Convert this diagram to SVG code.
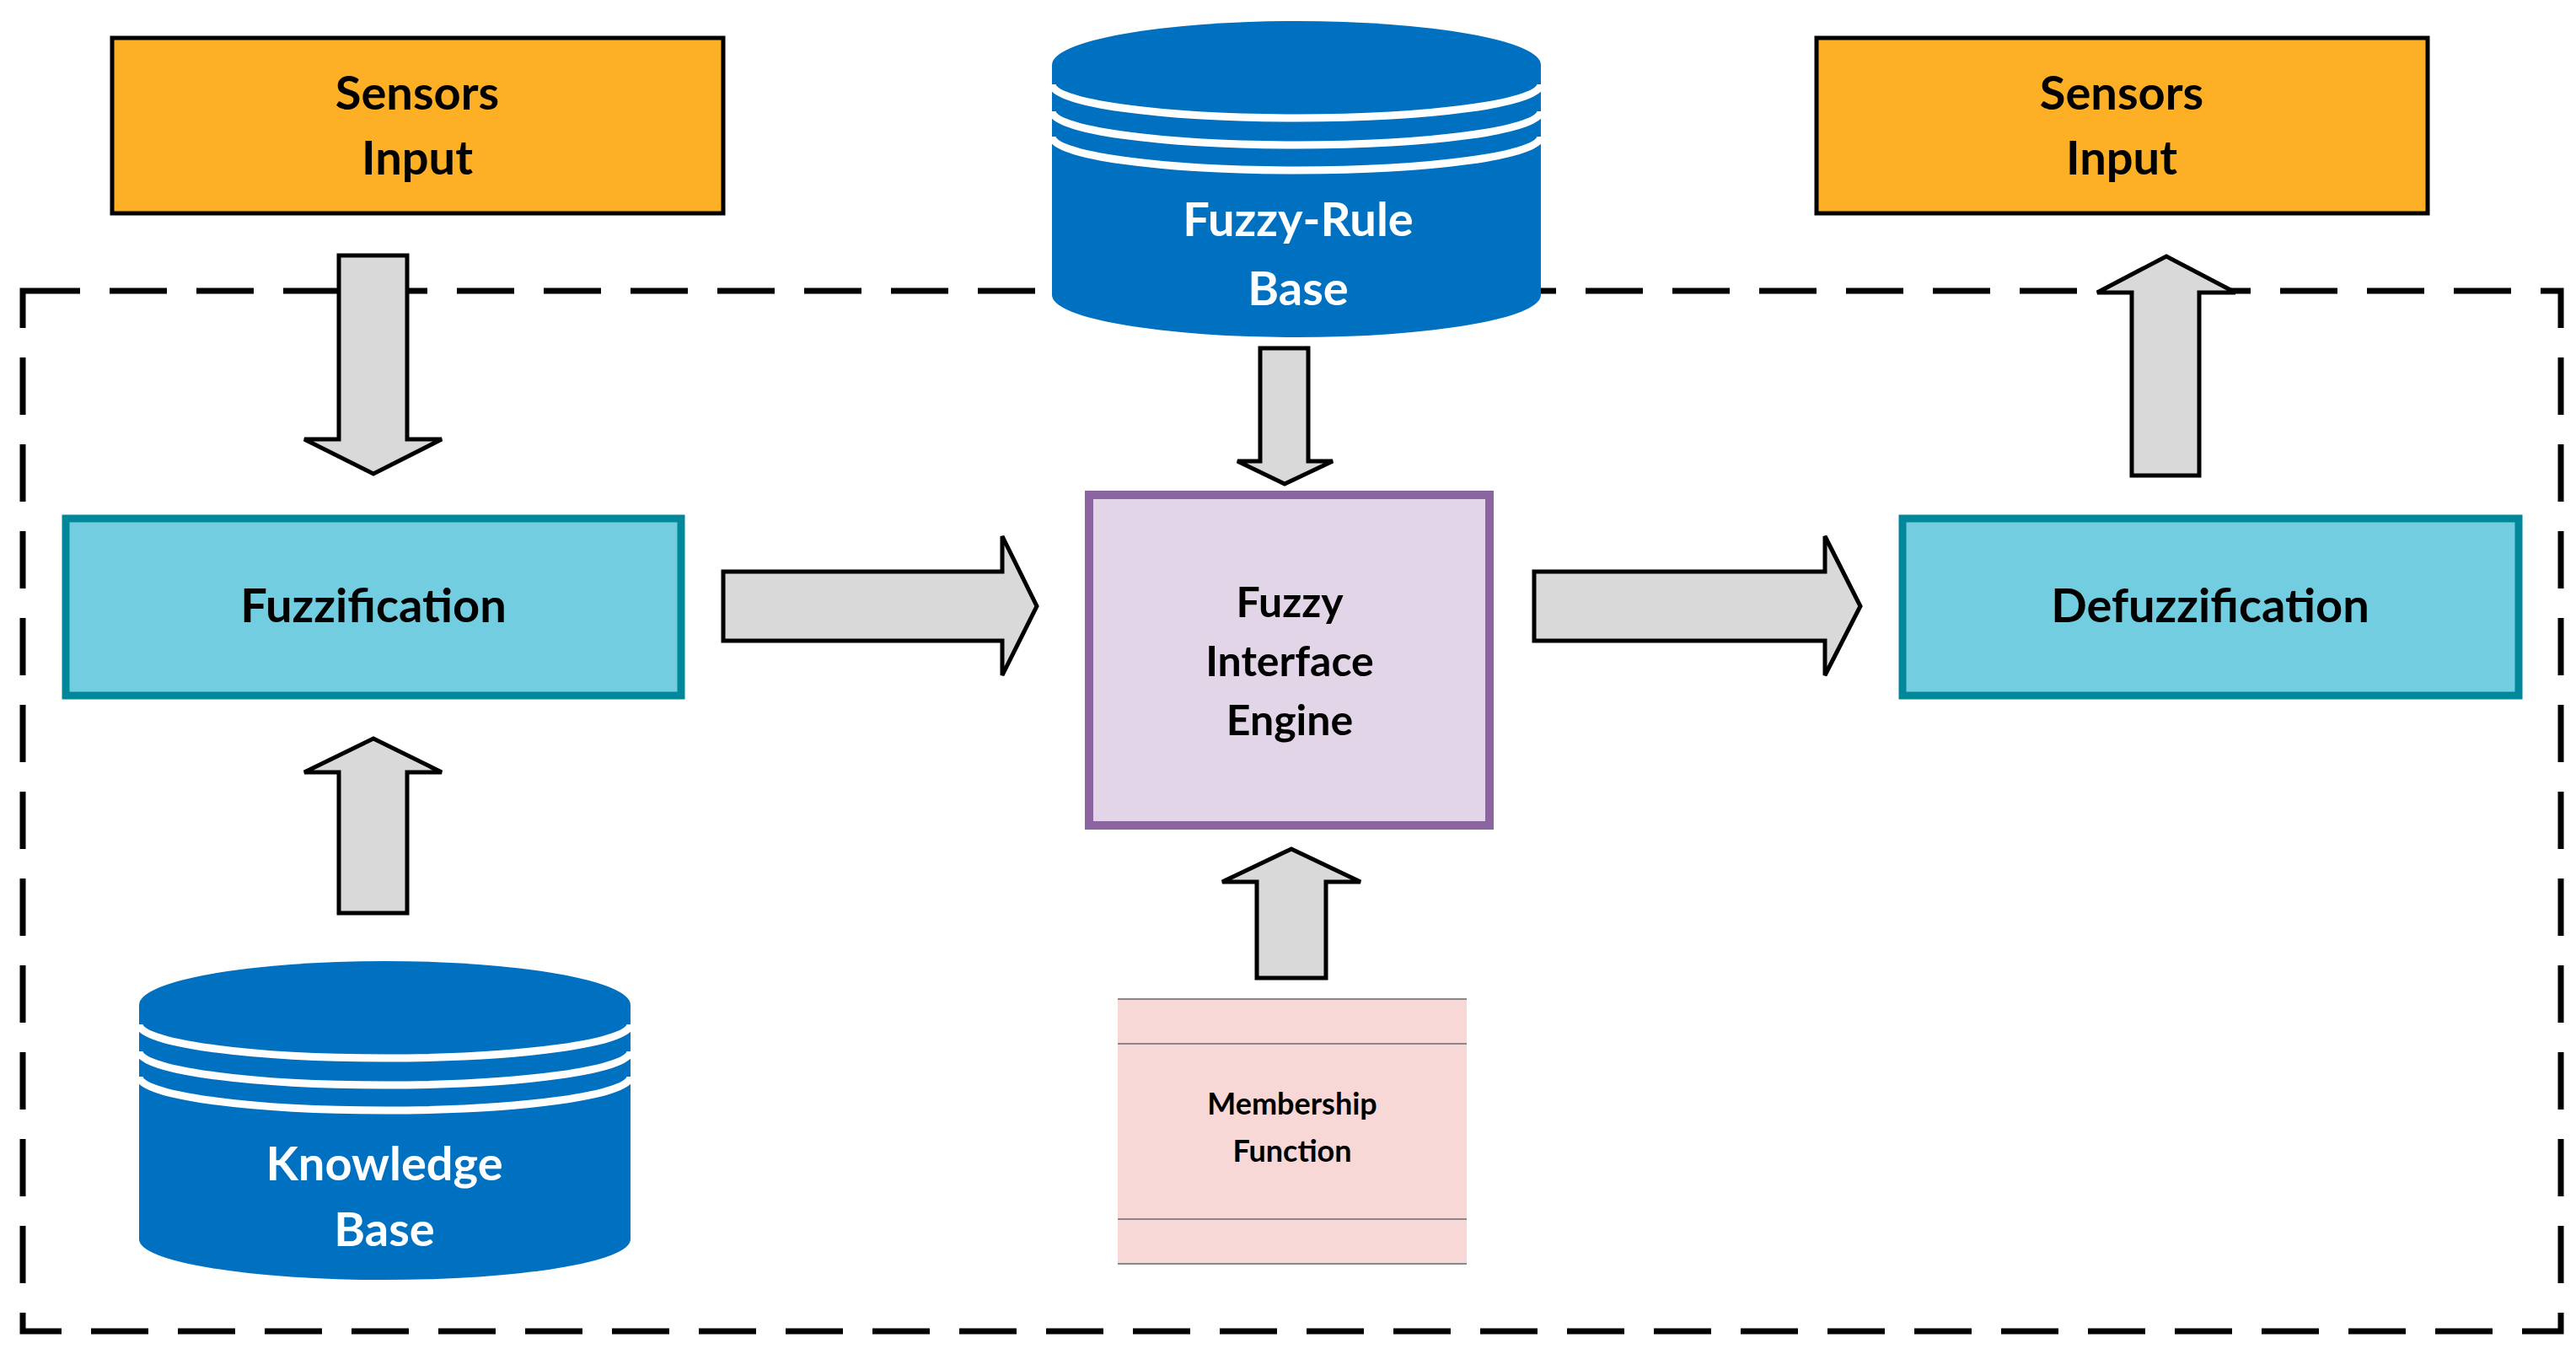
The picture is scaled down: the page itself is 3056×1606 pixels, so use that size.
<svg xmlns="http://www.w3.org/2000/svg" width="3056" height="1606" viewBox="0 0 3056 1606">
<style>
text{font-family:Lato,"Open Sans","Liberation Sans",sans-serif;font-weight:bold;text-anchor:middle}
.arr{fill:#d9d9d9;stroke:#000;stroke-width:5}
.cyl{fill:#0070c0}
.stripe{fill:none;stroke:#fff;stroke-width:9}
.wt{fill:#fff;font-size:56px}
.bk{fill:#000;font-size:56px}
.md{font-size:50px}
.sm{font-size:36px}
</style>
<rect width="3056" height="1606" fill="#fff"/>
<rect x="27" y="345" width="3011" height="1234" fill="none" stroke="#000" stroke-width="7" stroke-dasharray="68,35"/>
<g id="sensors-left"><rect x="133" y="45" width="725" height="208" fill="#fdb026" stroke="#000" stroke-width="5"/><text class="bk" x="495" y="130">Sensors</text><text class="bk" x="495" y="207">Input</text></g>
<g id="sensors-right"><rect x="2155" y="45" width="725" height="208" fill="#fdb026" stroke="#000" stroke-width="5"/><text class="bk" x="2517" y="130">Sensors</text><text class="bk" x="2517" y="207">Input</text></g>
<g id="fuzzification"><rect x="78" y="615" width="730" height="210" fill="#72cde0" stroke="#00889a" stroke-width="9"/><text class="bk" x="443" y="738">Fuzzification</text></g>
<g id="defuzzification"><rect x="2257" y="615" width="731" height="210" fill="#72cde0" stroke="#00889a" stroke-width="9"/><text class="bk" x="2622" y="738">Defuzzification</text></g>
<g id="engine"><rect x="1292" y="587" width="475" height="392" fill="#e1d5e7" stroke="#8a65a0" stroke-width="10"/><text class="bk md" x="1530" y="732">Fuzzy</text><text class="bk md" x="1530" y="802">Interface</text><text class="bk md" x="1530" y="872">Engine</text></g>
<g id="rule-base">
<path class="cyl" d="M1248 77 A290 52 0 0 1 1828 77 L1828 350 A290 50 0 0 1 1248 350 Z"/>
<path class="stripe" d="M1248 100 A290 40 0 0 0 1828 100"/>
<path class="stripe" d="M1248 132 A290 40 0 0 0 1828 132"/>
<path class="stripe" d="M1248 162 A290 40 0 0 0 1828 162"/>
<text class="wt" x="1540" y="280">Fuzzy-Rule</text><text class="wt" x="1540" y="362">Base</text></g>
<g id="knowledge-base">
<path class="cyl" d="M165 1192 A291 52 0 0 1 748 1192 L748 1470 A291 48 0 0 1 165 1470 Z"/>
<path class="stripe" d="M165 1215 A291 40 0 0 0 748 1215"/>
<path class="stripe" d="M165 1247 A291 40 0 0 0 748 1247"/>
<path class="stripe" d="M165 1277 A291 40 0 0 0 748 1277"/>
<text class="wt" x="456" y="1400">Knowledge</text><text class="wt" x="456" y="1478">Base</text></g>
<g id="membership"><rect x="1326" y="1185" width="414" height="314" fill="#f8d7d7"/><path d="M1326 1185H1740M1326 1238H1740M1326 1446H1740M1326 1499H1740" stroke="#888" stroke-width="2"/><text class="bk sm" x="1533" y="1322">Membership</text><text class="bk sm" x="1533" y="1378">Function</text></g>
<g id="connectors">
<path class="arr" d="M402 303H483V521H524L443 562L361 521H402Z"/>
<path class="arr" d="M402 1083V916H361L443 876L524 916H483V1083Z"/>
<path class="arr" d="M858 678H1189V636L1230 719L1189 801V760H858Z"/>
<path class="arr" d="M1820 678H2165V636L2207 719L2165 801V760H1820Z"/>
<path class="arr" d="M1495 413H1552V547H1581L1524 574L1468 547H1495Z"/>
<path class="arr" d="M1491 1160V1046H1450L1532 1007L1614 1046H1573V1160Z"/>
<path class="arr" d="M2529 564V347H2488L2570 304L2652 347H2609V564Z"/>
</g>
</svg>
